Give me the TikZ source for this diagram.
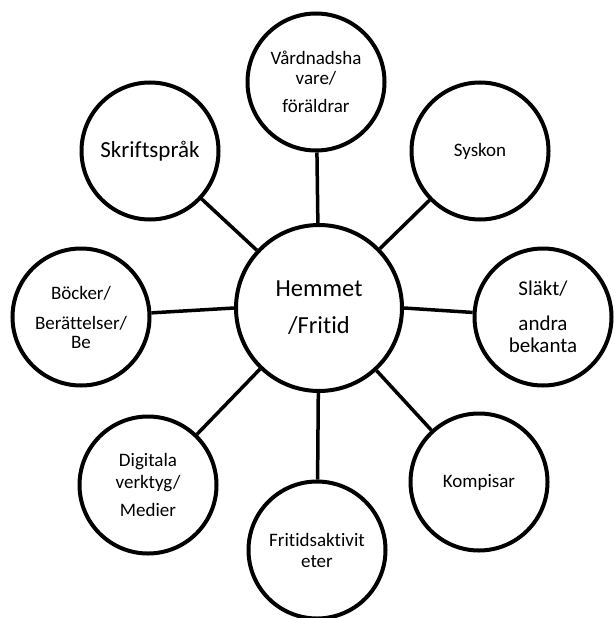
\documentclass[tikz,border=0pt]{standalone}
\usepackage{fontspec}
\setmainfont{Carlito}[Ligatures={NoCommon,NoContextual}]
\begin{document}
\begin{tikzpicture}[x=1pt,y=-1pt,
  outer/.style={circle,draw=black,line width=4pt,minimum size=137pt,inner sep=0pt,align=center,fill=white},
  hub/.style={circle,draw=black,line width=4pt,minimum size=166pt,inner sep=0pt,align=center,fill=white},
  link/.style={line width=3.5pt,black}]
\useasboundingbox (0,0) rectangle (613,618);
\node[hub,font=\fontsize{24.5}{37}\selectfont] (c) at (319,308) {Hemmet\\/Fritid};
\node[outer,font=\fontsize{19}{20}\selectfont] (v) at (316,82) {Vårdnadsha\\vare/\\[8pt]föräldrar};
\node[outer,font=\fontsize{23}{24}\selectfont] (s) at (150,151) {Skriftspråk};
\node[outer,font=\fontsize{19}{22}\selectfont] (y) at (480,151) {Syskon};
\node[outer,font=\fontsize{19}{19}\selectfont] (b) at (81,317) {Böcker/\\[11pt]Berättelser/\\Be};
\node[outer,font=\fontsize{21}{22}\selectfont] (k) at (543,317) {Släkt/\\[13pt]andra\\bekanta};
\node[outer,font=\fontsize{19}{22}\selectfont] (d) at (148,485) {Digitala\\verktyg/\\[6pt]Medier};
\node[outer,font=\fontsize{19}{22}\selectfont] (p) at (479,482) {Kompisar};
\node[outer,font=\fontsize{19}{21}\selectfont] (f) at (317,550) {Fritidsaktivit\\eter};
\draw[link] (c) -- (v);
\draw[link] (c) -- (s);
\draw[link] (c) -- (y);
\draw[link] (c.west) -- (b);
\draw[link] (c.east) -- (k);
\draw[link] (c) -- (d);
\draw[link] (c) -- (p);
\draw[link] (c) -- (f);
\end{tikzpicture}
\end{document}
